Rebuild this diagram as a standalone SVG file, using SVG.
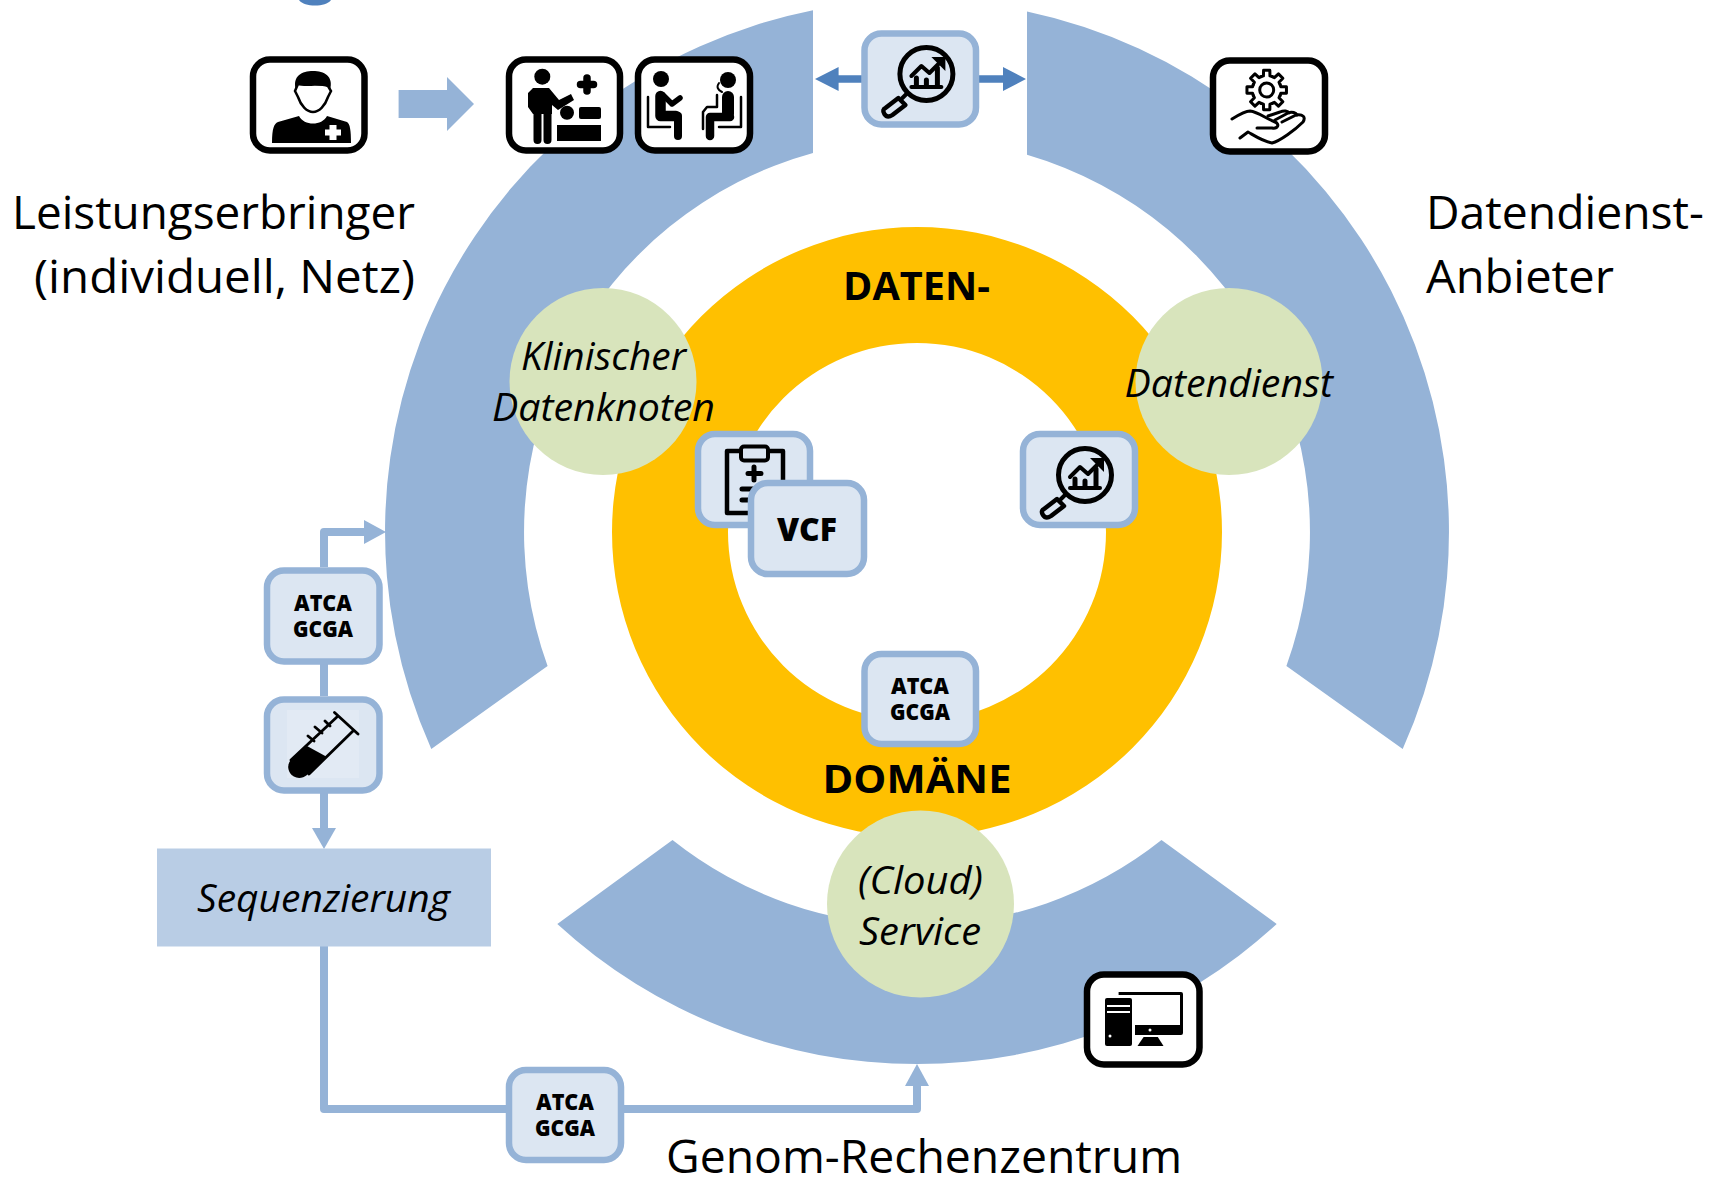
<svg xmlns="http://www.w3.org/2000/svg" width="1710" height="1177" viewBox="0 0 1710 1177">
<style>
.ring{fill:#95B3D7}
.dom{fill:#FFC000}
.green{fill:#D8E4BC}
.bbox{fill:#DCE6F2;stroke:#95B3D7;stroke-width:6.5}
.kbox{fill:#fff;stroke:#000;stroke-width:6.5}
.line{fill:none;stroke:#95B3D7;stroke-width:8;stroke-linejoin:round}
.head{fill:#95B3D7}
.dark{fill:#4F81BD}
.ink{fill:none;stroke:#000;stroke-linecap:round;stroke-linejoin:round}
text{font-family:"Open Sans","Noto Sans","Liberation Sans",sans-serif;fill:#000}
.big{font-size:46px}
.it{font-size:38px;font-style:italic}
.dn{font-size:40px;font-weight:700;text-anchor:middle}
.seq{font-size:22px;font-weight:800;text-anchor:middle}
</style>
<defs>
<g id="mag">
<circle class="ink" cx="65" cy="44" r="26.500" stroke-width="5"/>
<path class="ink" stroke-width="4" d="M46,63 L41,68"/>
<path class="ink" stroke-width="4.500" d="M37,68 L44,75 L31,85 C28,87 25,87 23,84 C21,81 22,79 24,78 Z"/>
<path class="ink" stroke-width="4" d="M50,57 H80"/>
<path class="ink" stroke-width="5" d="M55,56 V48 M65,56 V50 M76,56 V38"/>
<path class="ink" stroke-width="4" d="M50,46 L60,36 L68,43 L78,33"/>
<path d="M70,27 H84 V41 Z"/>
</g>
<path id="tooth" class="ink" stroke-width="3" d="M-5.550,-13.400 L-3.260,-14.130 L-3.130,-19.750 L3.130,-19.750 L3.260,-14.130 L5.550,-13.400"/>
</defs>

<g id="rings">
<path id="seg-left" class="ring" d="M813,10.300 A532,532 0 0 0 431.300,749 L547.600,666 A393,393 0 0 1 813,153 Z"/>
<path id="seg-right" class="ring" d="M1027,11.500 A532,532 0 0 1 1402.700,749 L1286.400,666 A393,393 0 0 0 1027,154.700 Z"/>
<path id="seg-bottom" class="ring" d="M557.300,924 A532,532 0 0 0 1276.700,924 L1161.500,840 A393,393 0 0 1 672.500,840 Z"/>
<path id="domain-ring" class="dom" fill-rule="evenodd" d="M612,532 A305,305 0 1 1 1222,532 A305,305 0 1 1 612,532 Z M728,532 A189,189 0 1 0 1106,532 A189,189 0 1 0 728,532 Z"/>
<path id="top-mark" class="dark" d="M299,0 H331 C328,4 322,5.500 315,5.500 C308,5.500 302,4 299,0 Z"/>
</g>

<g id="connectors">
<path class="ring" d="M398.600,90 H447 V77 L474,104 L447,131 V118 H398.600 Z"/>
<path class="dark" d="M815,79 L838.600,67 V75.300 H862 V82.700 H838.600 V91 Z"/>
<path class="dark" d="M1026,79 L1003,67 V75.300 H979 V82.700 H1003 V91 Z"/>
<path class="line" d="M324,567 V532 H366"/>
<path class="head" d="M386,532 L364,520 V544 Z"/>
<path class="line" d="M324,664 V696"/>
<path class="line" d="M324,793 V830"/>
<path class="head" d="M324,849 L312,828 H336 Z"/>
<path class="line" d="M324,946 V1109 H917 V1084"/>
<path class="head" d="M917,1064 L905,1086 H929 Z"/>
</g>

<g id="node-klinisch"><circle class="green" cx="603" cy="381.500" r="93.500"/>
<text class="it" x="521" y="370" textLength="165" lengthAdjust="spacingAndGlyphs">Klinischer</text>
<text class="it" x="492" y="421" textLength="223" lengthAdjust="spacingAndGlyphs">Datenknoten</text></g>
<g id="node-datendienst"><circle class="green" cx="1229" cy="381.500" r="93.500"/>
<text class="it" x="1124.500" y="396.500" textLength="208.500" lengthAdjust="spacingAndGlyphs">Datendienst</text></g>
<g id="node-cloud"><circle class="green" cx="920.500" cy="904" r="93.500"/>
<text class="it" x="858" y="894" textLength="125" lengthAdjust="spacingAndGlyphs">(Cloud)</text>
<text class="it" x="859" y="945" textLength="122" lengthAdjust="spacingAndGlyphs">Service</text></g>

<g id="label-domain">
<text class="dn" x="916.500" y="300" textLength="147" lengthAdjust="spacingAndGlyphs">DATEN-</text>
<text class="dn" x="917" y="793" textLength="189" lengthAdjust="spacingAndGlyphs">DOMÄNE</text>
</g>

<g id="node-clipboard"><rect class="bbox" x="698" y="434" width="112" height="91" rx="17"/>
<rect x="727" y="451" width="56" height="62" class="ink" stroke-width="4.500" stroke-linecap="butt"/>
<rect x="741" y="446.500" width="27" height="14" rx="3" fill="#DCE6F2" stroke="#000" stroke-width="4"/>
<path class="ink" stroke-width="5" d="M754,467 V480 M748,473.500 H761 M742,489 H762 M742,500 H756"/></g>
<g id="node-vcf"><rect class="bbox" x="751" y="483" width="113" height="91" rx="17"/>
<text x="807" y="541" text-anchor="middle" font-size="31" font-weight="800" textLength="60" lengthAdjust="spacingAndGlyphs">VCF</text></g>
<g id="node-analysis-inner"><rect class="bbox" x="1023" y="434" width="112" height="91" rx="17"/><use href="#mag" x="1020" y="431"/></g>
<g id="node-analysis-top"><rect class="bbox" x="864.500" y="33.500" width="111.500" height="91" rx="17"/><use href="#mag" x="861.400" y="30"/></g>
<g id="node-atca-center"><rect class="bbox" x="864.500" y="654" width="111.500" height="90" rx="17"/>
<text class="seq" x="920" y="694" textLength="58" lengthAdjust="spacingAndGlyphs">ATCA</text>
<text class="seq" x="920" y="720" textLength="60" lengthAdjust="spacingAndGlyphs">GCGA</text></g>
<g id="node-atca-left"><rect class="bbox" x="267" y="570.500" width="112.500" height="91" rx="17"/>
<text class="seq" x="323" y="611" textLength="58" lengthAdjust="spacingAndGlyphs">ATCA</text>
<text class="seq" x="323" y="637" textLength="60" lengthAdjust="spacingAndGlyphs">GCGA</text></g>
<g id="node-tube"><rect class="bbox" x="267" y="699.500" width="112.500" height="91" rx="17"/>
<rect x="287" y="710" width="72" height="68" fill="#E4EBF5" fill-opacity="0.7"/>
<path class="ink" stroke-width="2.800" d="M334.500,712.500 L358,734 M338,716 L291,760 M353,731 L309,774 M330,726 L325,721 M322,733 L315,727 M314,741 L308,736"/>
<path d="M307,746 L327,757 L307,775 C301,780 293,778 290,773 C287,768 288,763 291,760 Z"/></g>
<g id="node-atca-bottom"><rect class="bbox" x="509" y="1070" width="112" height="90" rx="17"/>
<text class="seq" x="565" y="1110" textLength="58" lengthAdjust="spacingAndGlyphs">ATCA</text>
<text class="seq" x="565" y="1136" textLength="60" lengthAdjust="spacingAndGlyphs">GCGA</text></g>

<g id="node-sequenzierung"><rect x="157" y="848.500" width="334" height="98" fill="#B9CDE5"/>
<text class="it" x="197" y="912" textLength="253" lengthAdjust="spacingAndGlyphs">Sequenzierung</text></g>

<g id="node-doctor"><rect class="kbox" x="253" y="59.500" width="111.500" height="91" rx="17"/>
<path d="M272,143 C272,128 274,124 278,122 L299,116 C304,126 322,126 327,116 L347,122 C350,124 351,130 351,143 Z"/>
<path d="M296,90 C292,76 302,71 313,71 C324,71 334,76 330,90 C322,84 304,84 296,90 Z"/>
<path fill="#fff" stroke="#000" stroke-width="2.500" d="M298,84 C305,86 320,83 328,86 L331,91 L328,97 C325,106 319,112 313,112 C307,112 301,106 298,97 L295,91 Z"/>
<path fill="#fff" d="M329.500,125 H336.500 V129.500 H341 V135.500 H336.500 V140 H329.500 V135.500 H325 V129.500 H329.500 Z"/></g>

<g id="node-patient"><rect class="kbox" x="509" y="59.500" width="111" height="91" rx="17"/>
<circle cx="542.300" cy="76.700" r="8"/>
<path d="M533,88 H549 L559,100 L571,94 L574,100 L558,110 L552,105 V114 H533 L528,107 V93 Z"/>
<path class="ink" stroke-width="8" d="M537.500,112 V140 M547.500,112 V140"/>
<path class="ink" stroke-width="7.500" d="M587,78 V91 M580.500,84.500 H593.500"/>
<circle cx="567" cy="112.700" r="7"/>
<rect x="579" y="107" width="22" height="12" rx="2"/>
<rect x="557" y="125" width="44" height="16"/></g>

<g id="node-consult"><rect class="kbox" x="638" y="59.500" width="112" height="91" rx="17"/>
<circle cx="661" cy="79" r="8"/>
<path class="ink" stroke-width="10.500" d="M660.500,96 V116 H676"/>
<path class="ink" stroke-width="8" d="M678,116 V136"/>
<path class="ink" stroke-width="5.500" d="M663,95 L672,104 L680,98"/>
<path class="ink" stroke-width="2.500" stroke-linecap="butt" d="M648,97 V127 H670"/>
<circle cx="728" cy="80" r="8"/>
<path class="ink" stroke-width="2" d="M719,83 C716,87 718,90 722,92"/>
<path class="ink" stroke-width="12" d="M728,97 V114"/>
<path class="ink" stroke-width="8.500" d="M730,117 H710 V136"/>
<path class="ink" stroke-width="2.500" stroke-linecap="butt" d="M741,97 V127 H719"/>
<path class="ink" stroke-width="2.500" stroke-linecap="butt" d="M717,95 V107 H707 L703,112 V129"/></g>

<g id="node-hand"><rect class="kbox" x="1213" y="60.500" width="112" height="91" rx="17"/>
<g transform="translate(1266.700,90)">
<circle class="ink" r="7" stroke-width="3"/>
<use href="#tooth"/>
<use href="#tooth" transform="rotate(45)"/>
<use href="#tooth" transform="rotate(90)"/>
<use href="#tooth" transform="rotate(135)"/>
<use href="#tooth" transform="rotate(180)"/>
<use href="#tooth" transform="rotate(225)"/>
<use href="#tooth" transform="rotate(270)"/>
<use href="#tooth" transform="rotate(315)"/>
</g>
<path class="ink" stroke-width="3" d="M1232,119 C1240,114 1245,111 1250,111 C1258,112 1265,118 1275,122 C1280,124 1278,129 1272,128 L1257,128"/>
<path class="ink" stroke-width="3" d="M1240,138 L1248,132 C1255,136 1262,141 1272,143 C1280,141 1295,130 1303,122 C1306,117 1303,114 1296,115 L1282,122"/>
<path class="ink" stroke-width="3" d="M1275,120 L1288,113 C1292,111 1296,113 1297,115 M1268,116 L1280,112 C1284,110 1288,111 1289,113"/></g>

<g id="node-computer"><rect class="kbox" x="1087" y="974.500" width="112.500" height="90" rx="17"/>
<rect x="1105" y="998" width="27" height="48" rx="2"/>
<path stroke="#fff" stroke-width="2" d="M1107,1006 H1130 M1107,1012 H1130"/>
<circle cx="1110" cy="1036" r="1.500" fill="#fff"/>
<path d="M1118.600,992 H1181 Q1183,992 1183,994 V1033 Q1183,1035 1181,1035 H1135 V1025 H1180 V995 H1118.600 Z"/>
<circle cx="1150" cy="1030" r="1.500" fill="#fff"/>
<path d="M1143.600,1037 H1157.800 L1163.500,1046 H1137.500 Z"/></g>

<g id="labels">
<text class="big" x="12" y="229" textLength="403" lengthAdjust="spacingAndGlyphs">Leistungserbringer</text>
<text class="big" x="34" y="293" textLength="381" lengthAdjust="spacingAndGlyphs">(individuell, Netz)</text>
<text class="big" x="1426" y="229" textLength="278" lengthAdjust="spacingAndGlyphs">Datendienst-</text>
<text class="big" x="1426" y="293" textLength="188" lengthAdjust="spacingAndGlyphs">Anbieter</text>
<text class="big" x="666" y="1173" textLength="516" lengthAdjust="spacingAndGlyphs">Genom-Rechenzentrum</text>
</g>
</svg>
